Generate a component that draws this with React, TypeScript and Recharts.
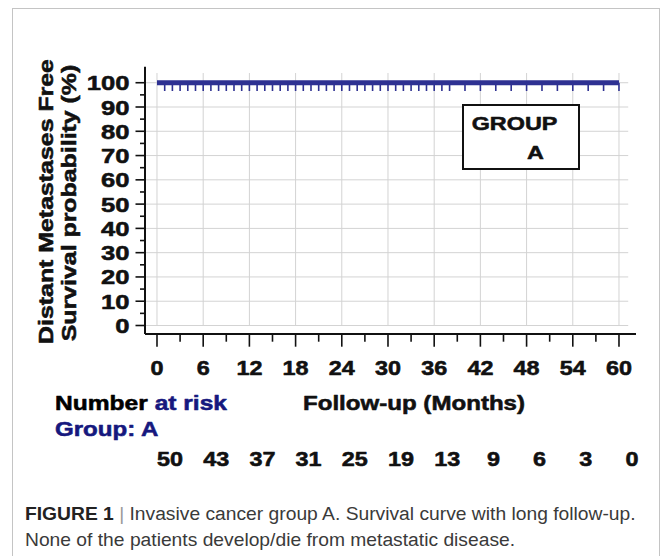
import React from 'react';
import { ComposedChart, Line, Scatter, XAxis, YAxis, ReferenceLine } from 'recharts';

// ---- data ----
const monthTicks = [0, 3, 6, 9, 12, 15, 18, 21, 24, 27, 30, 33, 36, 39, 42, 45, 48, 51, 54, 57, 60];
const labelMonths = [0, 6, 12, 18, 24, 30, 36, 42, 48, 54, 60];
const yTicks = [0, 5, 10, 15, 20, 25, 30, 35, 40, 45, 50, 55, 60, 65, 70, 75, 80, 85, 90, 95, 100];
const yGrid = [0, 10, 20, 30, 40, 50, 60, 70, 80, 90, 100];
const atRisk = [50, 43, 37, 31, 25, 19, 13, 9, 6, 3, 0];
const survivalMonths = [0, 60];
const survivalValues = [100, 100];
const censorMonths = [
  1, 2, 3, 4, 5, 6, 7, 8, 9, 10, 11, 12, 13, 14, 15, 16, 17, 18, 19, 20,
  21, 22, 23, 24, 25, 26, 27, 28, 29, 30, 31, 32, 33, 34, 35, 36, 37, 38,
  40, 42, 44, 46, 48, 50, 52, 54, 56, 58, 60,
];

const survival = survivalMonths.map((m, i) => ({ month: m, surv: survivalValues[i] }));
const censored = censorMonths.map((m) => ({ month: m, surv: 100 }));

// ---- style ----
const FONT = "'Liberation Sans', Arial, Helvetica, sans-serif";
const BLUE = '#2e3192';
const NAVY = '#16187e';
const X_MIN = -1.558;
const X_MAX = 62.21;
const Y_MIN = -3.5;
const Y_MAX = 106.6;
const GRID_X_END = 61.2;
const GRID_Y_END = 104;

type STextProps = {
  x: number;
  y: number;
  k?: number;
  size: number;
  anchor?: 'start' | 'middle' | 'end';
  fill?: string;
  weight?: string | number;
  rotate?: boolean;
  heavy?: number;
  children?: React.ReactNode;
};

function SText({ x, y, k = 1, size, anchor = 'start', fill = '#111', weight = 'bold', rotate = false, heavy = 0.55, children }: STextProps) {
  const transform = rotate
    ? `translate(${x},${y}) rotate(-90) scale(${k},1)`
    : `translate(${x},${y}) scale(${k},1)`;
  return (
    <text
      transform={transform}
      x={0}
      y={0}
      textAnchor={anchor}
      fontSize={size}
      fontWeight={weight}
      fontFamily={FONT}
      fill={fill}
      stroke={fill}
      strokeWidth={heavy}
      strokeLinejoin="round"
    >
      {children}
    </text>
  );
}

const XTick = (props: any) => {
  const { x, y, payload } = props;
  const v = payload.value;
  const major = v % 6 === 0;
  const idx = labelMonths.indexOf(v);
  return (
    <g>
      <line x1={x} x2={x} y1={y} y2={y + (major ? 12.7 : 7.7)} stroke="#111" strokeWidth={1.6} />
      {major && (
        <SText x={x} y={y + 41} k={1.17} size={20} anchor="middle">
          {v}
        </SText>
      )}
      {major && idx >= 0 && (
        <SText x={x + 13} y={y + 131.5} k={1.17} size={20} anchor="middle">
          {atRisk[idx]}
        </SText>
      )}
    </g>
  );
};

const YTick = (props: any) => {
  const { x, y, payload } = props;
  const v = payload.value;
  const major = v % 10 === 0;
  return (
    <g>
      <line x1={x} x2={x - (major ? 9.5 : 5)} y1={y} y2={y} stroke="#111" strokeWidth={1.6} />
      {major && (
        <SText x={x - 15.5} y={y + 7.5} k={1.22} size={21} anchor="end">
          {v}
        </SText>
      )}
    </g>
  );
};

const CensorMark = (props: any) => {
  const { cx, cy } = props;
  if (cx == null || cy == null) return <g />;
  return <line x1={cx} x2={cx} y1={cy} y2={cy + 8.2} stroke={BLUE} strokeWidth={1.6} />;
};

export default function App() {
  return (
    <div style={{ position: 'absolute', left: 0, top: 0, width: 662, height: 556, background: '#fff', overflow: 'hidden' }}>
      <ComposedChart width={662} height={556} margin={{ top: 66.7, right: 26, bottom: 192, left: 85 }}>
        {yGrid.map((v) => (
          <ReferenceLine
            key={'h' + v}
            segment={[{ x: X_MIN, y: v }, { x: GRID_X_END, y: v }]}
            stroke="#d3d3d3"
            strokeWidth={1}
            ifOverflow="visible"
          />
        ))}
        {labelMonths.map((m) => (
          <ReferenceLine
            key={'v' + m}
            segment={[{ x: m, y: 0 }, { x: m, y: GRID_Y_END }]}
            stroke="#d3d3d3"
            strokeWidth={1}
            ifOverflow="visible"
          />
        ))}
        <XAxis
          type="number"
          dataKey="month"
          domain={[X_MIN, X_MAX]}
          allowDataOverflow
          ticks={monthTicks}
          interval={0}
          tickSize={0}
          tickMargin={0}
          tickLine={false}
          axisLine={{ stroke: '#111', strokeWidth: 2 }}
          tick={(p: any) => <XTick {...p} />}
          height={30}
        />
        <YAxis
          type="number"
          dataKey="surv"
          domain={[Y_MIN, Y_MAX]}
          allowDataOverflow
          ticks={yTicks}
          interval={0}
          tickSize={0}
          tickMargin={0}
          tickLine={false}
          axisLine={{ stroke: '#111', strokeWidth: 2 }}
          tick={(p: any) => <YTick {...p} />}
          width={60}
        />
        <Line
          data={survival}
          dataKey="surv"
          type="stepAfter"
          stroke={BLUE}
          strokeWidth={5}
          dot={false}
          activeDot={false}
          isAnimationActive={false}
        />
        <Scatter data={censored} dataKey="surv" shape={(p: any) => <CensorMark {...p} />} isAnimationActive={false} />
      </ComposedChart>

      <svg
        width={662}
        height={556}
        style={{ position: 'absolute', left: 0, top: 0, pointerEvents: 'none' }}
      >
        <rect x={12.5} y={8.5} width={647} height={600} fill="none" stroke="#c4c4c4" strokeWidth={1} />

        {/* GROUP A box */}
        <rect x={463} y={105} width={116} height={64} fill="#fff" stroke="#111" strokeWidth={2} />
        <SText x={471.7} y={129.5} k={1.23} size={19}>GROUP</SText>
        <SText x={535.5} y={159} k={1.23} size={19} anchor="middle">A</SText>

        {/* y axis title */}
        <SText x={53} y={201.5} k={1.29} size={19.3} anchor="middle" rotate>
          Distant Metastases Free
        </SText>
        <SText x={76} y={203} k={1.29} size={19.3} anchor="middle" rotate>
          Survival probability (%)
        </SText>

        {/* x axis title */}
        <SText x={414} y={409.5} k={1.17} size={20.6} anchor="middle">
          Follow-up (Months)
        </SText>

        {/* number at risk */}
        <text
          transform="translate(55,409.5) scale(1.17,1)"
          fontSize={21}
          fontWeight="bold"
          fontFamily={FONT}
          strokeWidth={0.55}
          strokeLinejoin="round"
        >
          <tspan fill="#000" stroke="#000">Number </tspan>
          <tspan fill={NAVY} stroke={NAVY}>at risk</tspan>
        </text>
        <SText x={55} y={436} k={1.17} size={20.6} fill={NAVY}>
          Group: A
        </SText>

        {/* caption */}
        <text x={25} y={519.5} fontSize={19.25} fontFamily={FONT} fill="#3a3a3a">
          <tspan fontWeight="bold" fill="#222">FIGURE 1</tspan>
          <tspan fill="#999"> | </tspan>
          <tspan>Invasive cancer group A. Survival curve with long follow-up.</tspan>
        </text>
        <text x={25} y={546} fontSize={19.25} fontFamily={FONT} fill="#3a3a3a">
          None of the patients develop/die from metastatic disease.
        </text>
      </svg>
    </div>
  );
}
